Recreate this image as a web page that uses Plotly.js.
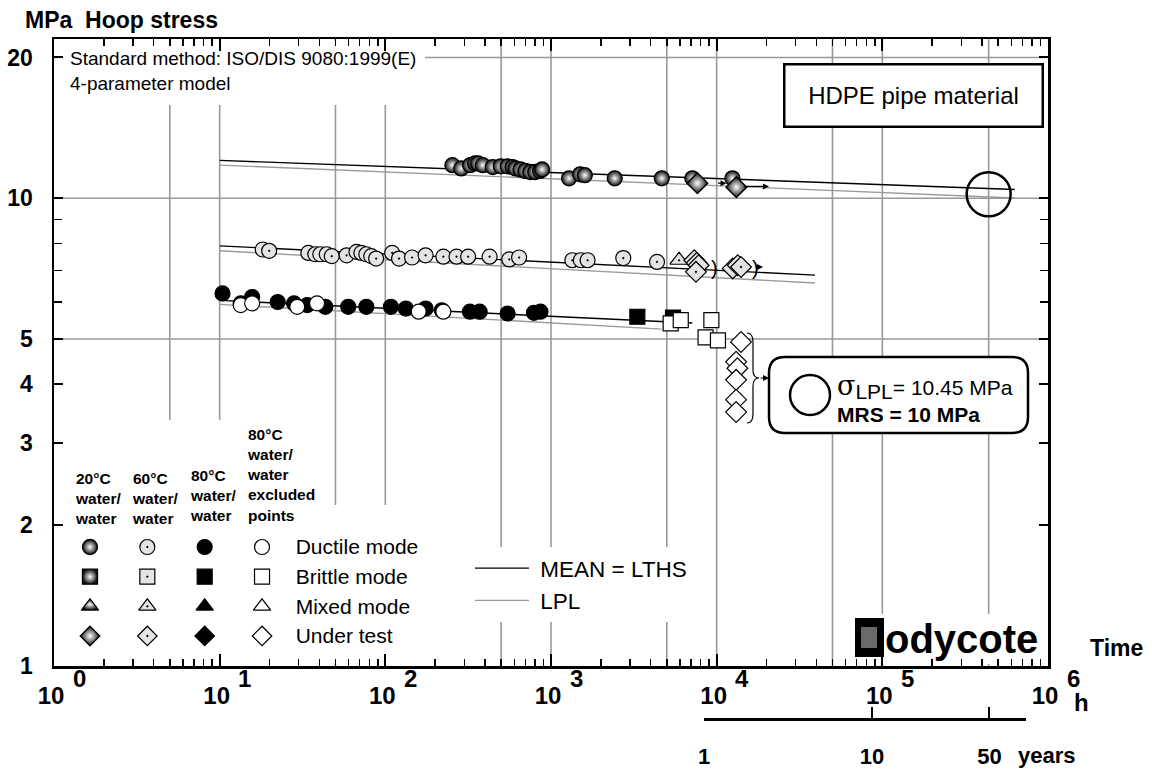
<!DOCTYPE html>
<html><head><meta charset="utf-8">
<script src="https://cdn.plot.ly/plotly-3.0.1.min.js"></script>
<style>html,body{margin:0;padding:0;background:#fff}</style>
</head><body>
<div id="chart" style="width:1152px;height:769px"></div>
<script>
// ---------------- DATA ----------------
// 20°C water/water
const hours20Ductile = [254, 287, 325, 348, 363, 388, 445, 497, 547, 586, 611, 654, 700, 750, 803, 860, 884, 1285, 1500, 1600, 2425, 4665, 7130, 12450];
const mpa20Ductile   = [11.77, 11.58, 11.77, 11.87, 11.87, 11.77, 11.66, 11.70, 11.70, 11.66, 11.58, 11.52, 11.44, 11.38, 11.38, 11.44, 11.52, 11.03, 11.25, 11.20, 11.03, 11.03, 11.03, 11.03];
const hours20UnderTest = [7650, 13150];
const mpa20UnderTest   = [10.77, 10.56];
// 60°C water/water
const hours60Ductile = [18.2, 19.9, 34.3, 37.8, 40.5, 44.3, 47.5, 58.4, 67, 71.7, 76.8, 82.2, 88, 110, 121, 145, 175, 224, 269, 316, 426, 560, 642, 1345, 1513, 1663, 2730, 4365];
const mpa60Ductile   = [7.77, 7.72, 7.64, 7.59, 7.59, 7.59, 7.52, 7.55, 7.68, 7.64, 7.59, 7.52, 7.43, 7.64, 7.43, 7.47, 7.55, 7.50, 7.50, 7.50, 7.50, 7.40, 7.47, 7.37, 7.37, 7.37, 7.45, 7.31];
const hours60Mixed = [5930];
const mpa60Mixed   = [7.37];
const hours60UnderTest = [7330, 7570, 7780, 7500, 12500, 13400, 14030];
const mpa60UnderTest   = [7.37, 7.27, 7.19, 6.96, 7.08, 7.19, 7.13];
// 80°C water/water
const hours80Ductile = [10.4, 13.4, 15.7, 22.4, 28.1, 33.8, 43.4, 59.7, 76.8, 108, 133, 175, 219, 324, 371, 547, 789, 864];
const mpa80Ductile   = [6.26, 5.96, 6.15, 6.00, 5.96, 5.91, 5.86, 5.86, 5.86, 5.86, 5.81, 5.81, 5.76, 5.72, 5.72, 5.67, 5.69, 5.72];
const hours80Brittle = [3320, 5450];
const mpa80Brittle   = [5.58, 5.56];
// 80°C water/water excluded points
const hoursExDuctile = [13.4, 15.7, 29.4, 38.7, 159, 224];
const mpaExDuctile   = [5.91, 5.96, 5.86, 5.96, 5.72, 5.72];
const hoursExBrittle = [5275, 6070, 9290, 8570, 10180];
const mpaExBrittle   = [5.40, 5.49, 5.49, 5.04, 4.97];
const hoursExUnderTest = [14030, 13100, 13340, 13100, 13100, 13100];
const mpaExUnderTest   = [4.93, 4.47, 4.33, 4.09, 3.71, 3.49];
// regression lines (MEAN = LTHS and LPL)
const lineHours20 = [10, 630000];
const mean20 = [12.05, 10.44];
const lpl20  = [11.77, 10.01];
const lineHours60 = [10, 39200];
const mean60 = [7.91, 6.85];
const lpl60  = [7.72, 6.59];
const lineHours80Mean = [10, 7130];
const mean80 = [6.05, 5.41];
const lineHours80Lpl = [10, 4650];
const lpl80  = [5.93, 5.25];
// axes
const yTickVals = [1, 2, 3, 4, 5, 10, 20];
const yTickText = ['1', '2', '3', '4', '5', '10', '20'];
const yMinorVals = [6, 7, 8, 9];
const xTickVals = [1, 10, 100, 1000, 10000, 100000, 1000000];
const xTickBase = ['10', '10', '10', '10', '10', '10', '10'];
const xTickExp  = ['0', '1', '2', '3', '4', '5', '6'];
const yearTickVals = [1, 10, 50];
const yearTickText = ['1', '10', '50'];
const gridHours = [5, 10, 50, 100, 500, 1000, 5000, 10000, 50000, 100000, 438300];
const gridMpa = [5, 10, 20];
const lphHours = 438300, lphMpa = 10.2;   // marked point at 50 years
// key
const legendCols = ['20°C', '60°C', '80°C', 'excluded'];
const legendRows = ['Ductile mode', 'Brittle mode', 'Mixed mode', 'Under test'];
const legendHeaders = ['20°C<br>water/<br>water', '60°C<br>water/<br>water', '80°C<br>water/<br>water', '80°C<br>water/<br>water<br>excluded<br>points'];

// ---------------- GEOMETRY HELPERS ----------------
const FW = 1152, FH = 769, L = 54, R = 104, T = 39, B = 51;
const PW = FW - L - R, PH = FH - T - B;
const PX = p => (p - L) / PW;
const PY = p => (FH - B - p) / PH;
const FONT = 'Liberation Sans, Arial, Helvetica, sans-serif';
const lg = Math.log10;
const X_RANGE = [0, 6], Y_RANGE = [0, lg(21.9)], Y_DOM0 = PY(666);

// ---------------- STYLES ----------------
const baseSymbols = ['circle', 'square', 'triangle-up', 'diamond'];
const styles = {
  s20: {color: '#111', gradient: {type: 'radial', color: '#ffffff'}, line: {color: '#000', width: 1.3}, suffix: ''},
  s60: {color: '#e4e4e4', line: {color: '#000', width: 1.2}, suffix: '-dot'},
  s80: {color: '#000000', line: {color: '#000', width: 1.2}, suffix: ''},
  sEx: {color: '#ffffff', line: {color: '#000', width: 1.2}, suffix: ''}
};
const colStyles = [styles.s20, styles.s60, styles.s80, styles.sEx];

function pts(x, y, sym, st, size) {
  const m = {symbol: sym + st.suffix, size: size || 15, color: st.color, line: st.line};
  if (st.gradient) m.gradient = st.gradient;
  return {type: 'scatter', mode: 'markers', x: x, y: y, marker: m, showlegend: false, hoverinfo: 'skip', cliponaxis: false};
}
function line(x, y, color, name, show) {
  return {type: 'scatter', mode: 'lines', x: x, y: y, name: name, showlegend: !!show,
          line: {color: color, width: 1.4}, hoverinfo: 'skip'};
}

const traces = [
  line(lineHours20, mean20, '#000', '\u00a0MEAN = LTHS', true),
  line(lineHours20, lpl20, '#9a9a9a', '\u00a0LPL', true),
  line(lineHours60, mean60, '#000', 'MEAN = LTHS', false),
  line(lineHours60, lpl60, '#9a9a9a', 'LPL', false),
  line(lineHours80Mean, mean80, '#000', 'MEAN = LTHS', false),
  line(lineHours80Lpl, lpl80, '#9a9a9a', 'LPL', false),
  pts(hours20Ductile, mpa20Ductile, 'circle', styles.s20),
  pts(hours20UnderTest, mpa20UnderTest, 'diamond', styles.s20, 16),
  pts(hours60Ductile, mpa60Ductile, 'circle', styles.s60),
  pts(hours60Mixed, mpa60Mixed, 'triangle-up', styles.s60, 16),
  pts(hours60UnderTest, mpa60UnderTest, 'diamond', styles.s60, 16),
  pts(hours80Ductile, mpa80Ductile, 'circle', styles.s80),
  pts(hours80Brittle, mpa80Brittle, 'square', styles.s80),
  pts(hoursExDuctile, mpaExDuctile, 'circle', styles.sEx),
  pts(hoursExBrittle, mpaExBrittle, 'square', styles.sEx),
  pts(hoursExUnderTest, mpaExUnderTest, 'diamond', styles.sEx, 16),
  // empty trace so that the years scale (x3/y3) exists as a subplot
  {type: 'scatter', mode: 'markers', x: [], y: [], xaxis: 'x3', yaxis: 'y3', showlegend: false, hoverinfo: 'skip'}
];
// key grid (symbol table)
legendCols.forEach((c, i) => {
  const st = colStyles[i];
  const m = {symbol: baseSymbols.map(s => s + st.suffix), size: 15, color: st.color, line: st.line};
  if (st.gradient) m.gradient = st.gradient;
  traces.push({type: 'scatter', mode: 'markers', x: legendRows.map(() => c), y: legendRows,
               xaxis: 'x4', yaxis: 'y4', marker: m, showlegend: false, hoverinfo: 'skip'});
});

// ---------------- SHAPES ----------------
const GRID = {color: '#999', width: 1.6};
const shapes = [];
gridHours.forEach(h => shapes.push({type: 'line', xref: 'x', yref: 'y domain', x0: h, x1: h, y0: 0, y1: 1, line: GRID, layer: 'below'}));
gridMpa.forEach(v => shapes.push({type: 'line', xref: 'x domain', yref: 'y', x0: 0, x1: 1, y0: v, y1: v, line: GRID, layer: 'below'}));
function mask(x0, y0, x1, y1) {
  return {type: 'rect', xref: 'paper', yref: 'paper', x0: PX(x0), x1: PX(x1), y0: PY(y1), y1: PY(y0),
          fillcolor: '#fff', line: {width: 0}, layer: 'below'};
}
shapes.push(mask(57, 41, 425, 105));
shapes.push(mask(57, 420, 300, 664));
shapes.push(mask(300, 505, 400, 664));
shapes.push(mask(848, 614, 1046, 664));
// rounded result box
function roundPath(x0, y0, x1, y1, r) {
  const p = (x, y) => PX(x).toFixed(5) + ',' + PY(y).toFixed(5);
  return 'M' + p(x0 + r, y0) + ' L' + p(x1 - r, y0) + ' Q' + p(x1, y0) + ' ' + p(x1, y0 + r) +
         ' L' + p(x1, y1 - r) + ' Q' + p(x1, y1) + ' ' + p(x1 - r, y1) +
         ' L' + p(x0 + r, y1) + ' Q' + p(x0, y1) + ' ' + p(x0, y1 - r) +
         ' L' + p(x0, y0 + r) + ' Q' + p(x0, y0) + ' ' + p(x0 + r, y0) + ' Z';
}
shapes.push({type: 'path', xref: 'paper', yref: 'paper', path: roundPath(769, 357, 1028, 433, 16),
             fillcolor: '#fff', line: {color: '#000', width: 2.5}, layer: 'below'});
shapes.push({type: 'circle', xref: 'paper', yref: 'paper', xsizemode: 'pixel', ysizemode: 'pixel',
             xanchor: PX(810), yanchor: PY(395), x0: -20, x1: 20, y0: -20, y1: 20,
             line: {color: '#000', width: 2.5}, layer: 'above'});
// circle at 50 years on the 20°C line (placed through the axis ranges)
const lphPaperX = (lg(lphHours) - X_RANGE[0]) / (X_RANGE[1] - X_RANGE[0]);
const lphPaperY = Y_DOM0 + (lg(lphMpa) - Y_RANGE[0]) / (Y_RANGE[1] - Y_RANGE[0]) * (1 - Y_DOM0);
shapes.push({type: 'circle', xref: 'paper', yref: 'paper', xsizemode: 'pixel', ysizemode: 'pixel',
             xanchor: lphPaperX, yanchor: lphPaperY, x0: -22, x1: 22, y0: -22, y1: 22,
             line: {color: '#000', width: 2.5}, layer: 'above'});
// curly brace next to excluded under-test points
(function () {
  const p = (x, y) => PX(x).toFixed(5) + ',' + PY(y).toFixed(5);
  const path = 'M' + p(747, 333) + ' Q' + p(753, 333) + ' ' + p(753, 342) + ' L' + p(753, 370) +
               ' Q' + p(753, 378) + ' ' + p(759, 378) + ' Q' + p(753, 378) + ' ' + p(753, 386) +
               ' L' + p(753, 414) + ' Q' + p(753, 423) + ' ' + p(747, 423);
  shapes.push({type: 'path', xref: 'paper', yref: 'paper', path: path, line: {color: '#000', width: 1.2}, layer: 'above'});
})();
// Bodycote logo block
shapes.push({type: 'rect', xref: 'paper', yref: 'paper', x0: PX(855), x1: PX(884), y0: PY(657), y1: PY(618),
             fillcolor: '#000', line: {width: 0}, layer: 'below'});
shapes.push({type: 'rect', xref: 'paper', yref: 'paper', x0: PX(861), x1: PX(877), y0: PY(648), y1: PY(627),
             fillcolor: '#6a6a6a', line: {width: 0}, layer: 'below'});

// ---------------- ANNOTATIONS ----------------
const ann = [];
function txt(x, y, text, size, opts) {
  return Object.assign({xref: 'paper', yref: 'paper', x: PX(x), y: PY(y), text: text, showarrow: false,
    xanchor: 'left', yanchor: 'middle', align: 'left',
    font: {family: FONT, size: size, color: '#000'}}, opts || {});
}
const bold = s => ({family: FONT, size: s, color: '#000', weight: 700});
ann.push(txt(23, 20, 'MPa  Hoop stress', 23, {font: bold(23)}));
xTickVals.forEach((v, i) => ann.push({xref: 'x', yref: 'paper', x: lg(v), y: PY(678), xshift: 25, text: xTickExp[i],
  showarrow: false, xanchor: 'center', yanchor: 'middle', font: bold(24)}));
ann.push(txt(1072, 702, 'h', 24, {font: bold(24)}));
ann.push(txt(1088, 648, 'Time', 23, {font: bold(23)}));
ann.push(txt(1016, 755, 'years', 22, {font: bold(22)}));
ann.push(txt(68, 71, 'Standard method: ISO/DIS 9080:1999(E)<br>4-parameter model', 19));
ann.push({xref: 'paper', yref: 'paper', x: PX(913), y: PY(95), text: 'HDPE pipe material', showarrow: false,
  xanchor: 'center', yanchor: 'middle', width: 254, height: 58, borderpad: 1, bgcolor: '#fff',
  bordercolor: '#000', borderwidth: 2.5, font: {family: FONT, size: 24, color: '#000'}});
ann.push(txt(835, 398, '<span style="font-family:DejaVu Serif,serif;font-size:27px">σ</span><sub><span style="font-size:21px">LPL</span></sub>= 10.45 MPa<br><b>MRS = 10 MPa</b>', 21));
legendHeaders.forEach((h, i) => ann.push({xref: 'x4', yref: 'paper', x: i, xshift: -17, y: PY(i < 2 ? 529 : 526),
  text: h, showarrow: false, xanchor: 'left', yanchor: 'bottom', align: 'left', font: bold(15.5)}));
ann.push(txt(883, 639, 'odycote', 40, {font: bold(40)}));
// arrows on runouts
function arrow(h, mpa, len) {
  return {xref: 'x', yref: 'y', x: lg(h), y: lg(mpa), ax: -len, ay: 0, text: '', showarrow: true,
          arrowhead: 2, arrowsize: 1, arrowwidth: 1.2, arrowcolor: '#000', standoff: 0};
}
ann.push(arrow(11470, 10.77, 10));
ann.push(arrow(20680, 10.60, 26));
ann.push(arrow(19050, 7.13, 9));
ann.push({xref: 'paper', yref: 'paper', x: PX(769), y: PY(378), ax: -10, ay: 0, text: '', showarrow: true,
          arrowhead: 2, arrowsize: 1, arrowwidth: 1.2, arrowcolor: '#000', standoff: 0});
ann.push(txt(709, 268, ')', 20));
ann.push(txt(750, 268, ')', 20));

// ---------------- LAYOUT ----------------
const minorX = [];
for (let e = 0; e < 6; e++) for (let d = 2; d <= 9; d++) minorX.push(d * Math.pow(10, e));

const layout = {
  width: FW, height: FH,
  margin: {l: L, r: R, t: T, b: B, pad: 0},
  paper_bgcolor: '#fff', plot_bgcolor: '#fff',
  font: {family: FONT, color: '#000'},
  hovermode: false,
  showlegend: true,
  legend: {x: PX(470), y: PY(547), xanchor: 'left', yanchor: 'top', bgcolor: '#fff', borderwidth: 0,
           font: {family: FONT, size: 22.5, color: '#000'}, itemwidth: 54, tracegroupgap: 0},
  xaxis: {type: 'log', range: X_RANGE, domain: [0, 1], anchor: 'y',
          showline: true, linewidth: 2.5, linecolor: '#000', mirror: 'ticks',
          ticks: 'inside', ticklen: 12, tickwidth: 2, tickcolor: '#000',
          tickmode: 'array', tickvals: xTickVals, ticktext: xTickBase,
          tickfont: bold(24), ticklabelstandoff: 7, ticklabelshift: -3,
          minor: {tickmode: 'array', tickvals: minorX, ticks: 'inside', ticklen: 7, tickwidth: 1.5, tickcolor: '#000', showgrid: false},
          showgrid: false, zeroline: false},
  yaxis: {type: 'log', range: Y_RANGE, domain: [Y_DOM0, 1], anchor: 'x',
          showline: true, linewidth: 2.5, linecolor: '#000', mirror: 'ticks',
          ticks: 'inside', ticklen: 9, tickwidth: 2, tickcolor: '#000',
          tickmode: 'array', tickvals: yTickVals, ticktext: yTickText,
          tickfont: bold(23), ticklabelstandoff: 14,
          minor: {tickmode: 'array', tickvals: yMinorVals, ticks: 'inside', ticklen: 8, tickwidth: 1.5, tickcolor: '#000', showgrid: false},
          showgrid: false, zeroline: false},
  xaxis3: {type: 'log', domain: [PX(704), PX(1026)], range: [0, lg(82.6)], anchor: 'y3',
           showline: true, linewidth: 2.5, linecolor: '#000',
           ticks: 'inside', ticklen: 11, tickwidth: 2, tickcolor: '#000',
           tickmode: 'array', tickvals: yearTickVals, ticktext: yearTickText,
           tickfont: bold(22), ticklabelstandoff: 17, showgrid: false, zeroline: false},
  yaxis3: {domain: [0, 0.001], anchor: 'x3', visible: false, range: [0, 1]},
  xaxis4: {domain: [PX(61.3), PX(290.7)], anchor: 'y4', range: [-0.5, 3.5], visible: false,
           type: 'category', categoryorder: 'array', categoryarray: legendCols},
  yaxis4: {domain: [PY(650.8), PY(532.2)], anchor: 'x4', range: [3.5, -0.5], side: 'right',
           type: 'category', categoryorder: 'array', categoryarray: legendRows,
           showline: false, ticks: '', showgrid: false, zeroline: false,
           tickfont: {family: FONT, size: 21, color: '#000'}, ticklabelstandoff: 4},
  shapes: shapes,
  annotations: ann
};

Plotly.newPlot('chart', traces, layout, {staticPlot: true, displayModeBar: false});
</script>
</body></html>
